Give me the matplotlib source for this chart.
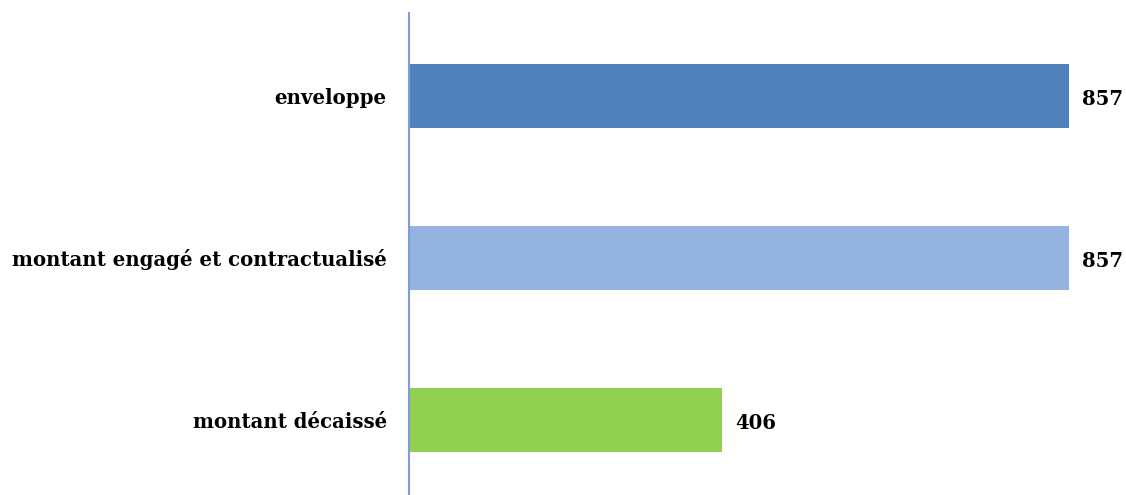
import matplotlib.pyplot as plt

categories = ['enveloppe', 'montant engagé et contractualisé', 'montant décaissé']
values = [857, 857, 406]
colors = ['#4F81BD', '#95B3E0', '#92D050']

fig = plt.figure(figsize=(11.26, 4.95), dpi=100)
ax = fig.add_axes([409/1126, 0, 717/1126, 482/495])

pos = list(range(len(categories)))
ax.barh(pos, values, height=0.39, color=colors)

ax.set_xlim(0, 931)
ax.set_ylim(2.463, -0.512)

for p, v in zip(pos, values):
    ax.text(v + 17, p + 0.02, str(v), va='center', ha='left',
            fontsize=14.2, fontweight='bold', family='DejaVu Serif')

ax.set_yticks(pos)
ax.set_yticklabels(categories, fontsize=14.2, fontweight='bold', family='DejaVu Serif')
ax.tick_params(axis='y', length=0, pad=16)
ax.set_xticks([])

for s in ['top', 'right', 'bottom']:
    ax.spines[s].set_visible(False)
ax.spines['left'].set_color('#7B9FD0')
ax.spines['left'].set_linewidth(1.5)

fig.savefig('out.png', dpi=100)
